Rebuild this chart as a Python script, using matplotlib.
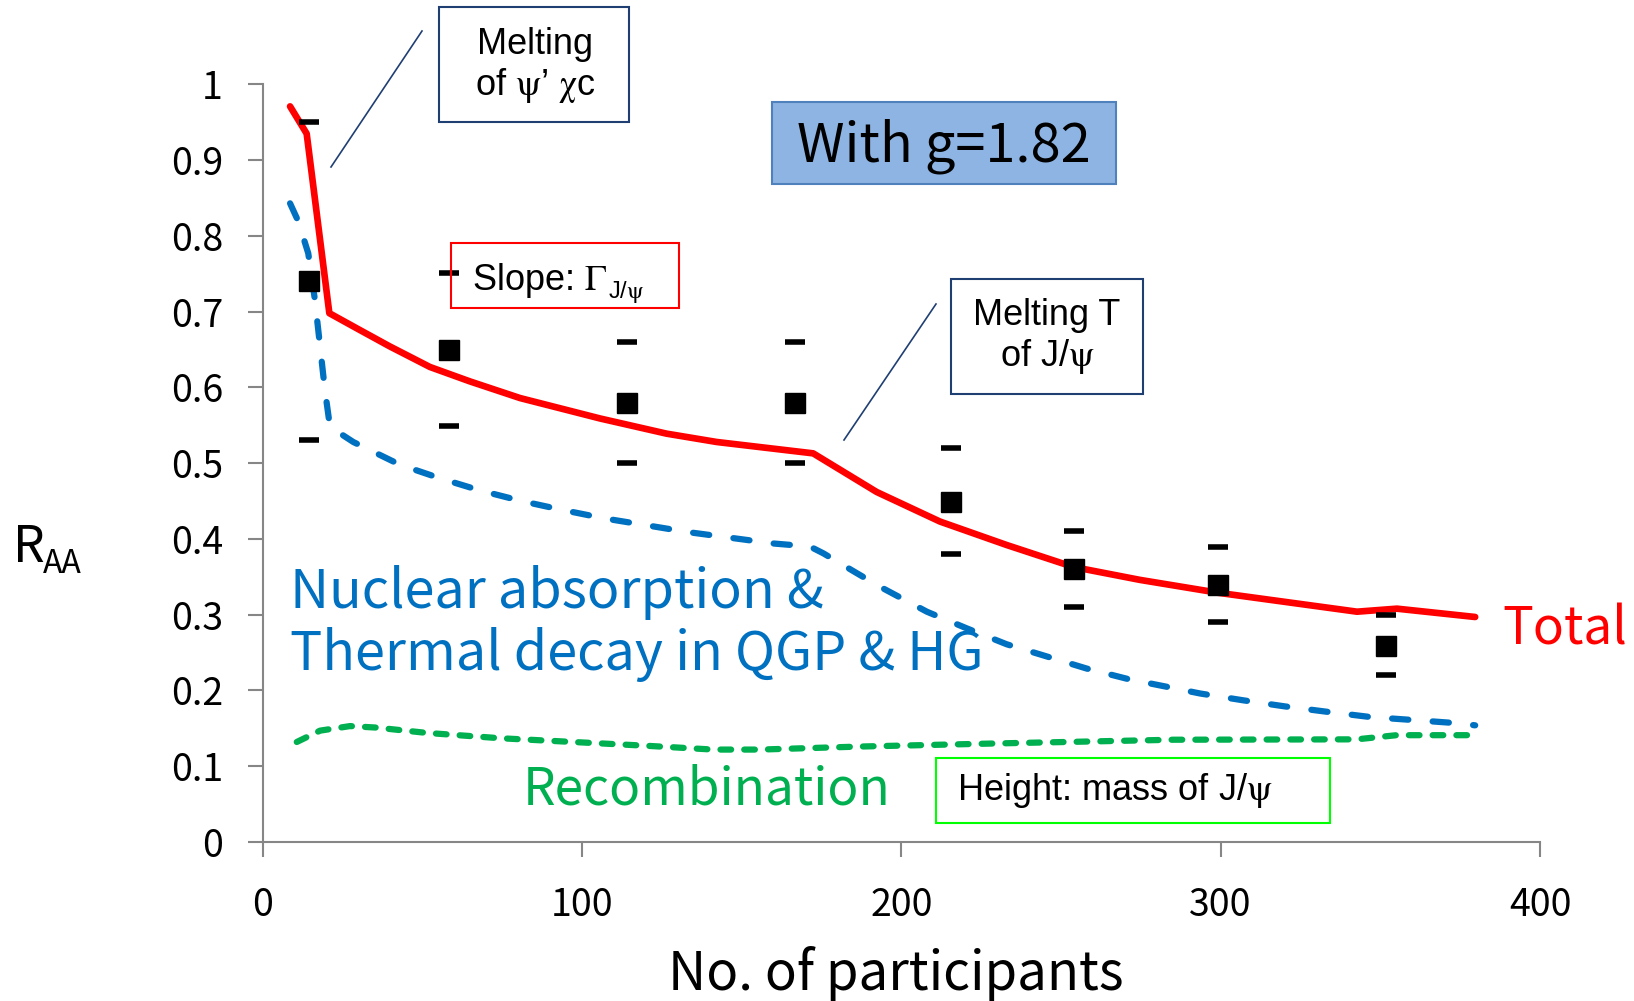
import matplotlib
matplotlib.use("Agg")
import matplotlib.pyplot as plt
from matplotlib.patches import Rectangle
from matplotlib.lines import Line2D

plt.rcParams['mathtext.fontset'] = 'stix'
KR = ['Noto Sans CJK KR', 'DejaVu Sans']
AR = ['Liberation Sans', 'DejaVu Sans']

# data points (R_AA vs Npart) with upper/lower caps
npart = [14.6, 58.5, 114.2, 166.7, 215.6, 254.2, 299.2, 351.8]
raa = [0.740, 0.650, 0.580, 0.580, 0.449, 0.360, 0.339, 0.259]
raa_hi = [0.950, 0.751, 0.660, 0.660, 0.520, 0.410, 0.390, 0.300]
raa_lo = [0.530, 0.549, 0.500, 0.500, 0.380, 0.310, 0.290, 0.220]

# total curve
tot_x = [8.6, 13.8, 20.9, 29.5, 39.9, 52.4, 64.9, 80.6, 105.7, 126.5, 142.2, 172.4,
         192.3, 212.1, 233.0, 253.9, 274.7, 299.2, 342.7, 355.2, 379.7]
tot_y = [0.971, 0.935, 0.698, 0.678, 0.654, 0.627, 0.608, 0.586, 0.559, 0.539, 0.528, 0.513,
         0.462, 0.423, 0.392, 0.363, 0.346, 0.329, 0.304, 0.308, 0.297]

# nuclear absorption + thermal decay
abs_x = [8.6, 11.2, 14.3, 16.4, 18.0, 19.5, 21.1, 28.4, 43.0, 55.6, 68.1, 81.1, 94.2,
         107.2, 120.3, 133.3, 160.0, 171.4, 175.6, 186.0, 193.3, 208.0, 220.5, 233.0,
         245.5, 258.0, 271.1, 284.2, 293.6, 307.1, 320.1, 333.1, 346.8, 360.3, 373.4, 379.7]
abs_y = [0.843, 0.819, 0.777, 0.715, 0.654, 0.597, 0.548, 0.528, 0.498, 0.480, 0.464, 0.450, 0.438,
         0.427, 0.418, 0.409, 0.394, 0.390, 0.381, 0.355, 0.337, 0.304, 0.282, 0.261,
         0.245, 0.229, 0.215, 0.204, 0.196, 0.187, 0.179, 0.172, 0.165, 0.161, 0.157, 0.154]

# recombination
rec_x = [10.7, 18.0, 27.4, 35.7, 51.4, 74.3, 97.3, 120.3, 141.1, 155.8, 187.1, 228.8,
         285.2, 342.6, 355.1, 379.7]
rec_y = [0.132, 0.147, 0.153, 0.151, 0.144, 0.137, 0.132, 0.127, 0.122, 0.122, 0.126, 0.130,
         0.135, 0.1355, 0.141, 0.141]

xticks = [0, 100, 200, 300, 400]
yticks = [0, 0.1, 0.2, 0.3, 0.4, 0.5, 0.6, 0.7, 0.8, 0.9, 1]
ytick_labels = ['0', '0.1', '0.2', '0.3', '0.4', '0.5', '0.6', '0.7', '0.8', '0.9', '1']

W, H = 1634, 1001
fig = plt.figure(figsize=(W / 100, H / 100), dpi=100)
ax = fig.add_axes([262.6 / W, 1 - 842 / H, (1540 - 262.6) / W, (842 - 84.4) / H])

ax.plot(tot_x, tot_y, color='#FF0000', lw=4.8, solid_capstyle='round',
        solid_joinstyle='round', zorder=4)
ax.plot(abs_x, abs_y, color='#0070C0', lw=4.5, dashes=(2.6, 3.9),
        dash_capstyle='round', zorder=3)
ax.plot(rec_x, rec_y, color='#00B050', lw=4.5, dashes=(1.7, 2.1),
        dash_capstyle='round', zorder=3)
ax.plot(npart, raa, 's', color='black', ms=14, zorder=5, clip_on=False)
ax.plot(npart, raa_hi, '_', color='black', ms=15, mew=4, zorder=5, clip_on=False)
ax.plot(npart, raa_lo, '_', color='black', ms=15, mew=4, zorder=5, clip_on=False)

ax.set_xlim(0, 400)
ax.set_ylim(0, 1)
ax.set_xticks(xticks)
ax.set_yticks(yticks)
ax.set_yticklabels(ytick_labels)
for s in ['top', 'right']:
    ax.spines[s].set_visible(False)
for s in ['left', 'bottom']:
    ax.spines[s].set_color('#868686')
    ax.spines[s].set_linewidth(1.5)
ax.tick_params(direction='out', length=10.5, width=1.5, color='#868686', labelsize=27)
ax.tick_params(axis='y', pad=18)
ax.tick_params(axis='x', pad=21)
for lab in ax.get_xticklabels() + ax.get_yticklabels():
    lab.set_fontfamily(KR)


def fx(px):
    return px / W


def fy(py):
    return 1 - py / H


def box(x0, y0, x1, y1, ec, fc='none', lw=1.5):
    fig.add_artist(Rectangle((fx(x0), fy(y1)), fx(x1 - x0), (y1 - y0) / H,
                             transform=fig.transFigure, ec=ec, fc=fc, lw=lw, zorder=6))


# annotation boxes
box(439, 7, 629, 122, '#1F3F73')
box(772, 102, 1116, 184, '#4F81BD', fc='#8EB4E3')
box(451, 243, 679, 308, '#FF0000')
box(951, 279, 1143, 394, '#1F3F73')
box(936, 758, 1330, 823, '#00FF00')

fig.add_artist(Line2D([fx(422), fx(331)], [fy(31), fy(167)], color='#1F3F73', lw=1.2,
                      transform=fig.transFigure))
fig.add_artist(Line2D([fx(936), fx(844)], [fy(304), fy(440)], color='#1F3F73', lw=1.2,
                      transform=fig.transFigure))

fig.text(fx(535), fy(66), 'Melting\nof $\\mathrm{\\psi}$’ $\\mathrm{\\chi}$c', ha='center',
         va='center', fontsize=26, family=AR, linespacing=1.15, zorder=7)
fig.text(fx(944), fy(146), 'With g=1.82', ha='center', va='center', fontsize=39,
         family=KR, zorder=7)
slope = fig.text(fx(472), fy(290), 'Slope: $\\Gamma$', ha='left', va='baseline',
                 fontsize=26, family=AR, zorder=7)
r = fig.canvas.get_renderer()
bb = slope.get_window_extent(r)
fig.text(fx(bb.x1 + 1), fy(298), 'J/$\\mathrm{\\psi}$', ha='left', va='baseline',
         fontsize=17, family=AR, zorder=7)
fig.text(fx(1047), fy(337), 'Melting T\nof J/$\\mathrm{\\psi}$', ha='center', va='center',
         fontsize=26, family=AR, linespacing=1.15, zorder=7)
fig.text(fx(957), fy(791), 'Height: mass of J/$\\mathrm{\\psi}$', ha='left', va='center',
         fontsize=26, family=AR, zorder=7)

fig.text(fx(290), fy(592), 'Nuclear absorption &', ha='left', va='center',
         fontsize=38.8, family=KR, color='#0070C0')
fig.text(fx(290), fy(655), 'Thermal decay in QGP & HG', ha='left', va='center',
         fontsize=38.8, family=KR, color='#0070C0')
fig.text(fx(523), fy(790), 'Recombination', ha='left', va='center',
         fontsize=37, family=KR, color='#00B050')
fig.text(fx(1502), fy(630), 'Total', ha='left', va='center',
         fontsize=37, family=KR, color='#FF0000')

fig.text(fx(13), fy(562), 'R', ha='left', va='baseline', fontsize=36, family=KR)
fig.text(fx(43), fy(573), 'AA', ha='left', va='baseline', fontsize=23, family=KR)
fig.text(fx(896), fy(974), 'No. of participants', ha='center', va='center',
         fontsize=38, family=KR)

fig.savefig('out.png', dpi=100)
